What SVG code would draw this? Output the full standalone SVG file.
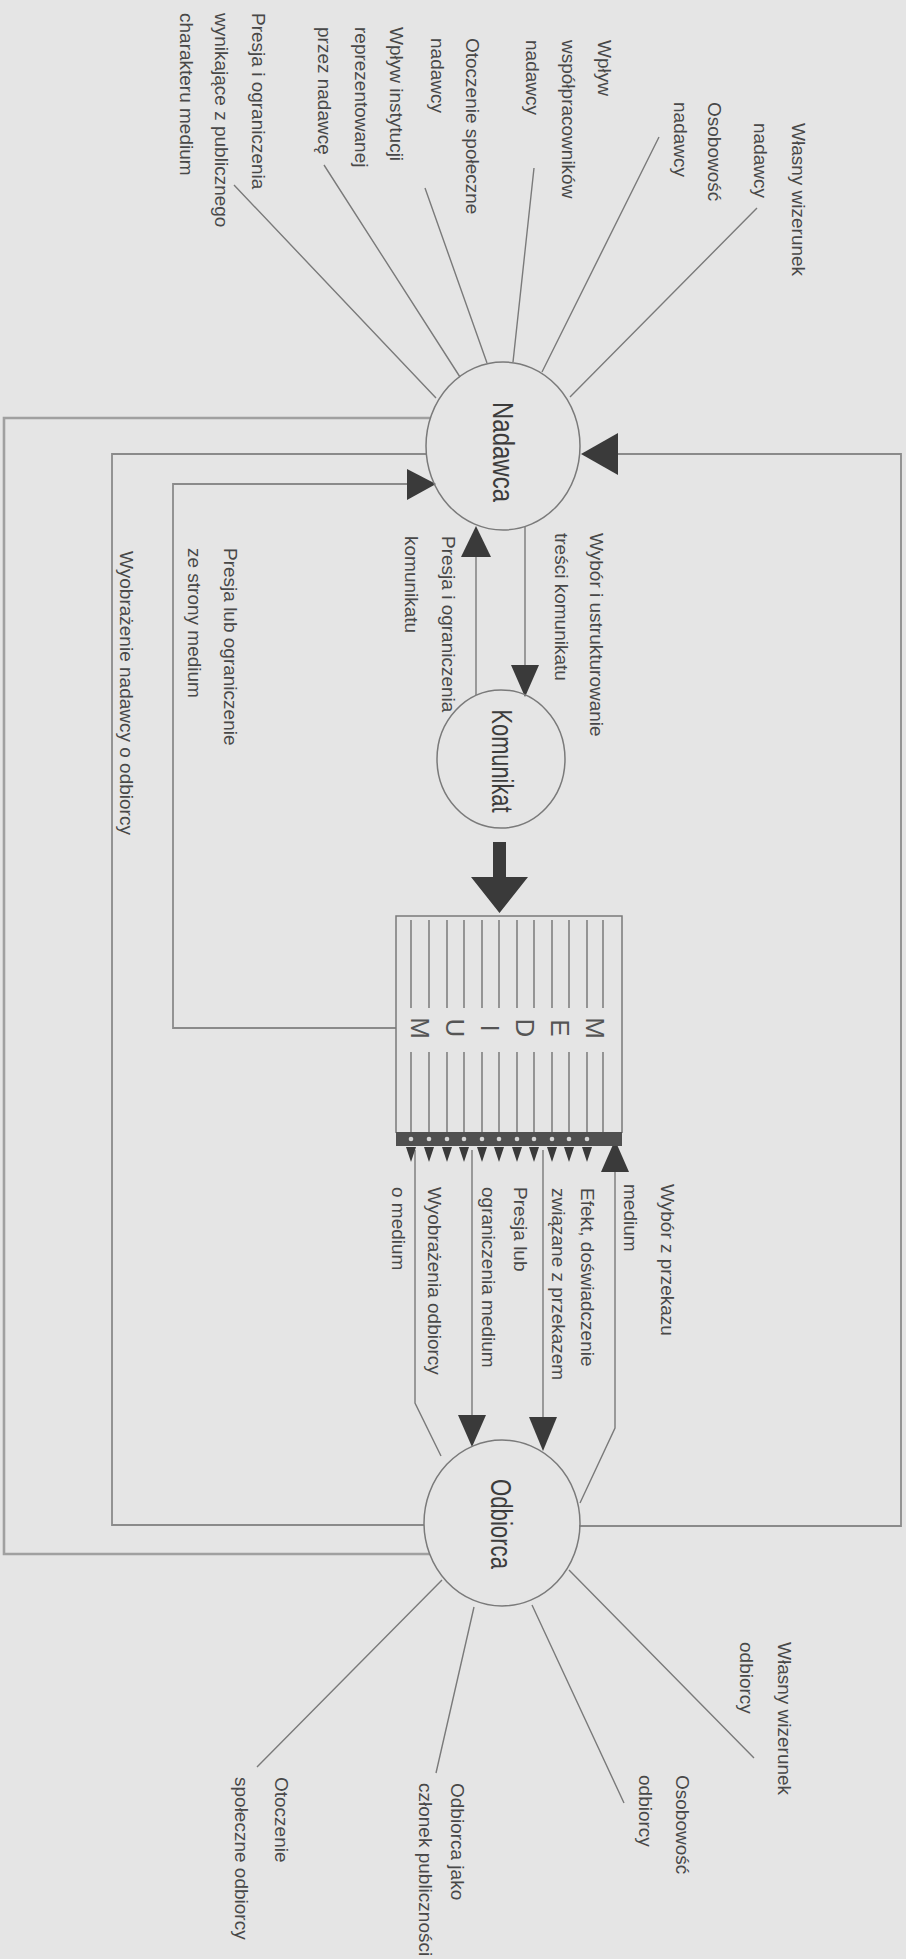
<svg xmlns="http://www.w3.org/2000/svg" width="906" height="1959" viewBox="0 0 906 1959">
<style>
.bg{fill:#e5e5e5}
.ln{fill:none;stroke:#7a7a7a;stroke-width:1.4}
.lp{fill:none;stroke:#8a8a8a;stroke-width:1.8}
.lo{fill:none;stroke:#a0a0a0;stroke-width:2.6}
.ah{fill:#3a3a3a}
.nd{fill:none;stroke:#7a7a7a;stroke-width:1.5}
.t{font-family:'Liberation Sans',Arial,sans-serif;font-size:19px;fill:#484848}
.tn{font-family:'Liberation Sans',Arial,sans-serif;font-size:29px;fill:#3c3c3c;text-anchor:middle}
.tm{font-family:'Liberation Sans',Arial,sans-serif;font-size:26px;fill:#555;text-anchor:middle}
.il{fill:none;stroke:#6a6a6a;stroke-width:1.3}
</style>
<rect class="bg" width="906" height="1959"/>

<g id="connectors">
  <!-- Nadawca radiating -->
  <path class="ln" d="M436,398 L234,185 M460,377 L324,165 M487,363 L425,188 M513,362 L534,168 M542,372 L659,137 M570,397 L757,208"/>
  <!-- loops -->
  <path class="lo" d="M430,418 H4 V1554 H430"/>
  <path class="lp" d="M426,454 H112 V1525 H424"/>
  <path class="lp" d="M396,1028 H173 V484 H410"/>
  <polygon class="ah" points="436,484 407,469 407,500"/>
  <path class="lp" d="M579,1526 H901 V454 H612"/>
  <polygon class="ah" points="581,454 618,433 618,475"/>
  <!-- Nadawca - Komunikat -->
  <path class="ln" d="M525,527 V667"/>
  <polygon class="ah" points="511,665 539,665 525,697"/>
  <path class="ln" d="M476,695 V555"/>
  <polygon class="ah" points="461,557 491,557 476,526"/>
  <!-- Komunikat -> Medium -->
  <path class="ah" d="M493,842 H506 V877 H528 L499.5,913 L471,877 H493 Z"/>
  <!-- Medium -> Odbiorca -->
  <path class="ln" d="M415,1150 V1403 L441,1456"/>
  <path class="ln" d="M472,1150 V1417"/>
  <polygon class="ah" points="458,1415 486,1415 472,1447"/>
  <path class="ln" d="M543,1150 V1419"/>
  <polygon class="ah" points="529,1417 557,1417 543,1451"/>
  <path class="ln" d="M615,1170 V1428 L580,1503"/>
  <polygon class="ah" points="601,1172 629,1172 615,1140"/>
  <!-- Odbiorca radiating -->
  <path class="ln" d="M569,1570 L754,1758 M532,1605 L624,1803 M474,1607 L436,1773 M442,1580 L257,1767"/>
</g>

<g id="nadawca">
  <ellipse class="nd" cx="503" cy="446" rx="77" ry="84"/>
  <text class="tn" transform="translate(493,452) rotate(90)" textLength="100" lengthAdjust="spacingAndGlyphs">Nadawca</text>
</g>
<g id="komunikat">
  <ellipse class="nd" cx="501" cy="759" rx="64" ry="69"/>
  <text class="tn" transform="translate(492,761) rotate(90)" textLength="103" lengthAdjust="spacingAndGlyphs">Komunikat</text>
</g>
<g id="odbiorca">
  <ellipse class="nd" cx="502" cy="1523" rx="78" ry="83"/>
  <text class="tn" transform="translate(491,1524) rotate(90)" textLength="90" lengthAdjust="spacingAndGlyphs">Odbiorca</text>
</g>

<g id="medium">
  <path class="nd" d="M396,1133 V916 H622 V1133"/>
  <path class="il" d="M411,920V1008M411,1052V1133 M429,920V1008M429,1052V1133 M447,920V1008M447,1052V1133 M464,920V1008M464,1052V1133 M482,920V1008M482,1052V1133 M499,920V1008M499,1052V1133 M517,920V1008M517,1052V1133 M534,920V1008M534,1052V1133 M552,920V1008M552,1052V1133 M569,920V1008M569,1052V1133 M587,920V1008M587,1052V1133 M603,920V1008M603,1052V1133"/>
  <rect x="396" y="1132" width="226" height="14" fill="#505050"/>
  <g fill="#d6d6d6">
    <circle cx="411" cy="1139" r="2.3"/><circle cx="429" cy="1139" r="2.3"/><circle cx="447" cy="1139" r="2.3"/><circle cx="464" cy="1139" r="2.3"/><circle cx="482" cy="1139" r="2.3"/><circle cx="499" cy="1139" r="2.3"/><circle cx="517" cy="1139" r="2.3"/><circle cx="534" cy="1139" r="2.3"/><circle cx="552" cy="1139" r="2.3"/><circle cx="569" cy="1139" r="2.3"/><circle cx="587" cy="1139" r="2.3"/>
  </g>
  <g class="ah">
    <polygon points="406,1147 416,1147 411,1162"/><polygon points="424,1147 434,1147 429,1162"/><polygon points="442,1147 452,1147 447,1162"/><polygon points="459,1147 469,1147 464,1162"/><polygon points="477,1147 487,1147 482,1162"/><polygon points="494,1147 504,1147 499,1162"/><polygon points="512,1147 522,1147 517,1162"/><polygon points="529,1147 539,1147 534,1162"/><polygon points="547,1147 557,1147 552,1162"/><polygon points="564,1147 574,1147 569,1162"/><polygon points="582,1147 592,1147 587,1162"/>
  </g>
  <text class="tm" transform="translate(586,1028) rotate(90)">M</text>
  <text class="tm" transform="translate(551,1028) rotate(90)">E</text>
  <text class="tm" transform="translate(516,1028) rotate(90)">D</text>
  <text class="tm" transform="translate(481,1028) rotate(90)">I</text>
  <text class="tm" transform="translate(446,1028) rotate(90)">U</text>
  <text class="tm" transform="translate(411,1028) rotate(90)">M</text>
</g>

<g id="l-wizerunek-nadawcy"><text class="t" transform="translate(792,123) rotate(90)"><tspan x="0" y="0">Własny wizerunek</tspan><tspan x="0" y="38">nadawcy</tspan></text></g>
<g id="l-osobowosc-nadawcy"><text class="t" transform="translate(708,102) rotate(90)"><tspan x="0" y="0">Osobowość</tspan><tspan x="0" y="34">nadawcy</tspan></text></g>
<g id="l-wspolpracownicy"><text class="t" transform="translate(598,40) rotate(90)"><tspan x="0" y="0">Wpływ</tspan><tspan x="0" y="36">współpracowników</tspan><tspan x="0" y="72">nadawcy</tspan></text></g>
<g id="l-otoczenie-nadawcy"><text class="t" transform="translate(466,38) rotate(90)"><tspan x="0" y="0">Otoczenie społeczne</tspan><tspan x="0" y="35">nadawcy</tspan></text></g>
<g id="l-instytucja"><text class="t" transform="translate(390,27) rotate(90)"><tspan x="0" y="0">Wpływ instytucji</tspan><tspan x="0" y="35">reprezentowanej</tspan><tspan x="0" y="72">przez nadawcę</tspan></text></g>
<g id="l-presja-publiczna"><text class="t" transform="translate(252,13) rotate(90)"><tspan x="0" y="0">Presja i ograniczenia</tspan><tspan x="0" y="37">wynikające z publicznego</tspan><tspan x="0" y="72">charakteru medium</tspan></text></g>
<g id="l-wybor-tresci"><text class="t" transform="translate(590,533) rotate(90)"><tspan x="0" y="0">Wybór i ustrukturowanie</tspan><tspan x="0" y="35">treści komunikatu</tspan></text></g>
<g id="l-presja-komunikatu"><text class="t" transform="translate(442,536) rotate(90)"><tspan x="0" y="0">Presja i ograniczenia</tspan><tspan x="0" y="37">komunikatu</tspan></text></g>
<g id="l-presja-medium"><text class="t" transform="translate(224,548) rotate(90)"><tspan x="0" y="0">Presja lub ograniczenie</tspan><tspan x="0" y="36">ze strony medium</tspan></text></g>
<g id="l-wyobrazenie-nadawcy"><text class="t" transform="translate(120,551) rotate(90)">Wyobrażenie nadawcy o odbiorcy</text></g>
<g id="l-wybor-przekazu"><text class="t" transform="translate(661,1184) rotate(90)"><tspan x="0" y="0">Wybór z przekazu</tspan><tspan x="0" y="37">medium</tspan></text></g>
<g id="l-efekt"><text class="t" transform="translate(581,1188) rotate(90)"><tspan x="0" y="0">Efekt, doświadczenie</tspan><tspan x="0" y="29">związane z przekazem</tspan></text></g>
<g id="l-presja-lub"><text class="t" transform="translate(514,1187) rotate(90)"><tspan x="0" y="0">Presja lub</tspan><tspan x="0" y="32">ograniczenia medium</tspan></text></g>
<g id="l-wyobrazenia-odbiorcy"><text class="t" transform="translate(428,1187) rotate(90)"><tspan x="0" y="0">Wyobrażenia odbiorcy</tspan><tspan x="0" y="36">o medium</tspan></text></g>
<g id="l-wizerunek-odbiorcy"><text class="t" transform="translate(778,1642) rotate(90)"><tspan x="0" y="0">Własny wizerunek</tspan><tspan x="0" y="38">odbiorcy</tspan></text></g>
<g id="l-osobowosc-odbiorcy"><text class="t" transform="translate(676,1775) rotate(90)"><tspan x="0" y="0">Osobowość</tspan><tspan x="0" y="37">odbiorcy</tspan></text></g>
<g id="l-czlonek"><text class="t" transform="translate(451,1783) rotate(90)"><tspan x="0" y="0">Odbiorca jako</tspan><tspan x="0" y="32">członek publiczności</tspan></text></g>
<g id="l-otoczenie-odbiorcy"><text class="t" transform="translate(275,1777) rotate(90)"><tspan x="0" y="0">Otoczenie</tspan><tspan x="0" y="40">społeczne odbiorcy</tspan></text></g>
</svg>
